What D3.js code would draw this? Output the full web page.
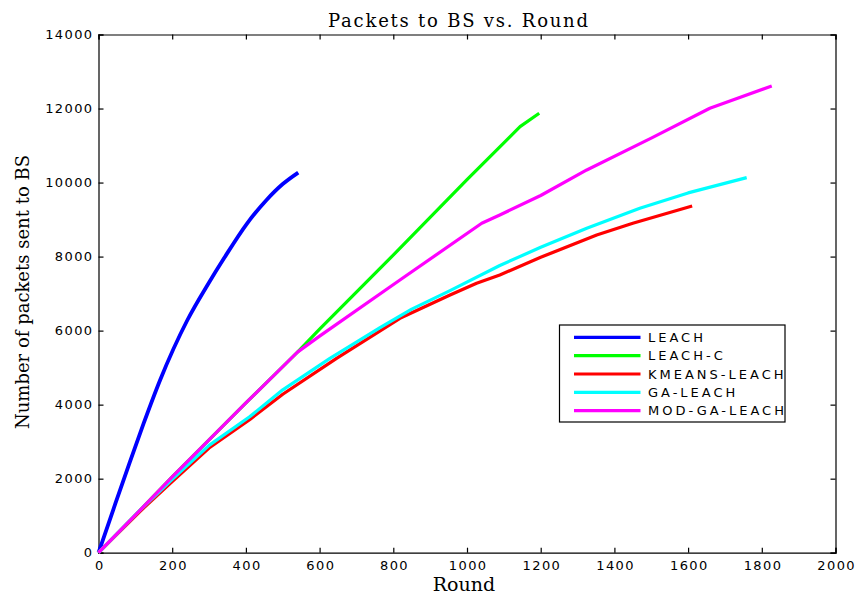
<!DOCTYPE html>
<html>
<head>
<meta charset="utf-8">
<script src="https://cdn.jsdelivr.net/npm/d3@7"></script>
<style>
  body { margin: 0; background: #fff; }
  svg { display: block; }
  .tick text { font-family: "DejaVu Sans", sans-serif; font-size: 13px; letter-spacing: 1.4px; fill: #000; }
  .serif { font-family: "DejaVu Serif", serif; fill: #000; }
</style>
</head>
<body>
<svg width="858" height="595"></svg>
<script>
// rounds / packets
const leach = [[0, 0], [40, 1160], [85, 2450], [122, 3480], [167, 4660], [241, 6280],
  [300, 7300], [341, 7960], [402, 8880], [456, 9530], [500, 9960], [542, 10270]]
const leachC = [[0, 0], [113, 1150], [200, 2050], [300, 3050], [400, 4050], [465, 4680],
  [540, 5420], [600, 6040], [791, 7950], [1000, 10080], [1144, 11510], [1196, 11872]]
const kmeansLeach = [[0, 0], [113, 1120], [200, 1920], [300, 2830], [411, 3600], [500, 4280],
  [646, 5252], [818, 6333], [954, 6963], [1026, 7279], [1089, 7503], [1200, 7980],
  [1352, 8584], [1450, 8900], [1611, 9368]]
const gaLeach = [[0, 0], [113, 1150], [200, 1980], [300, 2900], [411, 3680], [500, 4400],
  [628, 5252], [764, 6080], [850, 6580], [954, 7080], [1089, 7760], [1200, 8250],
  [1325, 8765], [1469, 9305], [1600, 9720], [1759, 10132]]
const modGaLeach = [[0, 0], [113, 1150], [200, 2050], [300, 3050], [400, 4050], [465, 4680],
  [540, 5420], [600, 5850], [818, 7368], [1040, 8900], [1089, 9124], [1200, 9650],
  [1325, 10340], [1500, 11200], [1659, 12007], [1827, 12610]]

const seriesNames = ['LEACH', 'LEACH-C', 'KMEANS-LEACH', 'GA-LEACH', 'MOD-GA-LEACH']
const seriesData = [leach, leachC, kmeansLeach, gaLeach, modGaLeach]
const seriesColors = ['#0000ff', '#00ff00', '#ff0000', '#00ffff', '#ff00ff']

const xTicks = d3.range(0, 2001, 200)
const yTicks = d3.range(0, 14001, 2000)

const svg = d3.select('svg')
const margins = {top: 34.5, right: 22.5, bottom: 42.3, left: 98.5}
const width = 858 - margins.left - margins.right
const height = 595 - margins.top - margins.bottom

const g = svg.append('g')
  .attr('transform', `translate(${margins.left}, ${margins.top})`)

const x = d3.scaleLinear().domain([0, 2000]).range([0, width])
const y = d3.scaleLinear().domain([0, 14000]).range([height, 0])

// axes: labels on bottom/left, inward ticks on all four sides
g.append('g')
  .attr('transform', `translate(0, ${height})`)
  .call(d3.axisBottom(x).tickValues(xTicks).tickSize(-5).tickPadding(8).tickFormat(d3.format('d')))
  .selectAll('.tick text').attr('dx', '0.7')
g.append('g')
  .call(d3.axisTop(x).tickValues(xTicks).tickSize(-5).tickFormat(''))
g.append('g')
  .call(d3.axisLeft(y).tickValues(yTicks).tickSize(-5).tickPadding(5).tickFormat(d3.format('d')))
g.append('g')
  .attr('transform', `translate(${width}, 0)`)
  .call(d3.axisRight(y).tickValues(yTicks).tickSize(-5).tickFormat(''))

g.selectAll('.domain').attr('stroke', '#000').attr('stroke-width', 1.2)
g.selectAll('.tick line').attr('stroke', '#000').attr('stroke-width', 1.2)

// LEACH is a smooth curve, the others bend at their sample points
const smoothLine = d3.line()
  .curve(d3.curveMonotoneX)
  .x((d) => x(d[0]))
  .y((d) => y(d[1]))
const line = d3.line()
  .x((d) => x(d[0]))
  .y((d) => y(d[1]))

seriesData.forEach((data, i) => {
  g.append('path')
    .datum(data)
    .attr('fill', 'none')
    .attr('stroke', seriesColors[i])
    .attr('stroke-width', i === 0 ? 3.8 : 3.2)
    .attr('stroke-linejoin', 'round')
    .attr('d', i === 0 ? smoothLine : line)
})

// legend
const legend = svg.append('g').attr('transform', 'translate(559.5, 325)')
legend.append('rect')
  .attr('width', 225.5)
  .attr('height', 97)
  .attr('fill', '#fff')
  .attr('stroke', '#000')
  .attr('stroke-width', 1.2)
seriesNames.forEach((name, i) => {
  const yy = 12.3 + i * 18.35
  legend.append('line')
    .attr('x1', 14.5).attr('x2', 81)
    .attr('y1', yy).attr('y2', yy)
    .attr('stroke', seriesColors[i])
    .attr('stroke-width', 3.2)
  legend.append('text')
    .attr('x', 88.5)
    .attr('y', yy)
    .attr('dy', '0.36em')
    .style('font-family', '"DejaVu Sans", sans-serif')
    .style('font-size', '13px')
    .style('letter-spacing', '3px')
    .text(name)
})

svg.append('text')
  .attr('class', 'serif')
  .attr('x', 458)
  .attr('y', 27)
  .attr('text-anchor', 'middle')
  .attr('textLength', 260)
  .attr('lengthAdjust', 'spacing')
  .style('font-size', '18px')
  .text('Packets to BS vs. Round')

svg.append('text')
  .attr('class', 'serif')
  .attr('x', 464)
  .attr('y', 591)
  .attr('text-anchor', 'middle')
  .style('font-size', '19px')
  .text('Round')

svg.append('text')
  .attr('class', 'serif')
  .attr('transform', 'translate(29, 292) rotate(-90)')
  .attr('text-anchor', 'middle')
  .style('font-size', '18px')
  .text('Number of packets sent to BS')
</script>
</body>
</html>
